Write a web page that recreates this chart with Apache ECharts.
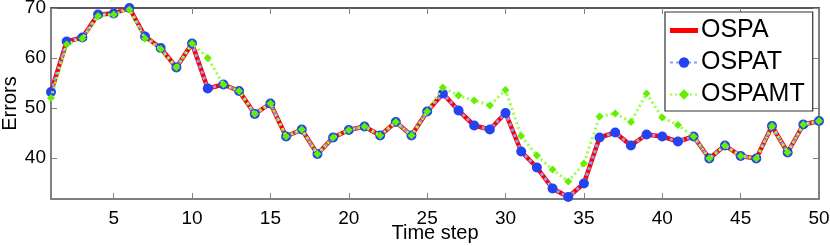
<!DOCTYPE html>
<html>
<head>
<meta charset="utf-8">
<script src="https://cdn.jsdelivr.net/npm/echarts@6/dist/echarts.min.js"></script>
<style>
html,body{margin:0;padding:0;background:#fff;}
#chart{width:830px;height:246px;}
</style>
</head>
<body>
<div id="chart"></div>
<script>
var timeSteps = [1,2,3,4,5,6,7,8,9,10,11,12,13,14,15,16,17,18,19,20,21,22,23,24,25,26,27,28,29,30,31,32,33,34,35,36,37,38,39,40,41,42,43,44,45,46,47,48,49,50];
var ospa = [53.2,63.3,64.1,68.7,68.9,70.0,64.3,62.0,58.1,62.9,53.9,54.7,53.4,48.8,50.9,44.3,45.7,40.8,44.1,45.6,46.3,44.5,47.2,44.5,49.3,52.9,49.5,46.5,45.7,49.0,41.3,38.1,33.9,32.2,34.9,44.1,45.1,42.5,44.7,44.3,43.3,44.3,39.9,42.5,40.4,39.9,46.4,41.1,46.7,47.4];
var ospat = [53.2,63.3,64.1,68.7,68.9,70.0,64.3,62.0,58.1,62.9,53.9,54.7,53.4,48.8,50.9,44.3,45.7,40.8,44.1,45.6,46.3,44.5,47.2,44.5,49.3,52.9,49.5,46.5,45.7,49.0,41.3,38.1,33.9,32.2,34.9,44.1,45.1,42.5,44.7,44.3,43.3,44.3,39.9,42.5,40.4,39.9,46.4,41.1,46.7,47.4];
var ospamt = [52.0,62.7,63.9,68.4,68.7,69.7,63.9,61.8,58.1,62.9,60.0,54.7,53.4,48.8,50.9,44.3,45.7,40.8,44.1,45.6,46.3,44.5,47.2,44.5,49.3,54.1,52.5,51.5,50.5,53.6,44.4,40.5,37.7,35.3,38.9,48.3,48.9,47.2,52.9,48.1,46.6,44.3,39.9,42.5,40.4,39.9,46.4,41.1,46.7,47.4];
var xTicks = [5,10,15,20,25,30,35,40,45,50];
var yTicks = [40,50,60,70];
var seriesNames = ['OSPA','OSPAT','OSPAMT'];

function pairs(vals){ return timeSteps.map(function(t,i){ return [t, vals[i]]; }); }

var chart = echarts.init(document.getElementById('chart'), null, {renderer:'canvas'});
var font = 'Liberation Sans, Arial, sans-serif';
var axisCol = '#808080';
var baseX = {
  type:'value', min:1, max:50,
  axisLine:{show:true, lineStyle:{color:axisCol, width:2}},
  axisTick:{show:true, inside:true, length:6, customValues:xTicks, lineStyle:{color:axisCol, width:1}},
  splitLine:{show:false}
};
var baseY = {
  type:'value', min:31.8, max:70,
  axisLine:{show:true, lineStyle:{color:axisCol, width:2}},
  axisTick:{show:true, inside:true, length:6, customValues:yTicks, lineStyle:{color:axisCol, width:1}},
  splitLine:{show:false}
};
chart.setOption({
  animation:false,
  backgroundColor:'#fff',
  grid:{left:51, right:11, top:8, bottom:47, containLabel:false, outerBoundsMode:'none'},
  xAxis:[
    Object.assign({}, baseX, {position:'bottom', name:'Time step', nameLocation:'middle', nameGap:24, nameMoveOverlap:false,
      nameTextStyle:{fontFamily:font, fontSize:20, color:'#000'},
      axisLabel:{show:true, customValues:xTicks, margin:10, fontFamily:font, fontSize:19, color:'#000'}}),
    Object.assign({}, baseX, {position:'top', axisLine:{show:true, lineStyle:{color:'#222', width:1.5}}, axisLabel:{show:false}})
  ],
  yAxis:[
    Object.assign({}, baseY, {position:'left', name:'Errors', nameLocation:'middle', nameGap:31, nameMoveOverlap:false,
      nameTextStyle:{fontFamily:font, fontSize:20, color:'#000'},
      axisLabel:{show:true, customValues:yTicks, margin:5, fontFamily:font, fontSize:19, color:'#000'}}),
    Object.assign({}, baseY, {position:'right', axisLabel:{show:false}})
  ],
  legend:{
    show:true, left:665, top:12, orient:'vertical',
    data:[
      {name:seriesNames[0], icon:'path://M0,0H28V5H0Z'},
      {name:seriesNames[1]},
      {name:seriesNames[2]}
    ],
    backgroundColor:'#fff', borderColor:'#333', borderWidth:1.2,
    padding:[6,8,4,4], itemGap:7, itemWidth:28, itemHeight:13,
    textStyle:{fontFamily:font, fontSize:25, color:'#000', padding:[0,0,0,-2]}
  },
  series:[
    {name:seriesNames[0], type:'line', data:pairs(ospa), symbol:'none', showSymbol:false,
     lineStyle:{color:'#ff0000', width:4.5}, itemStyle:{color:'#ff0000'}, z:2},
    {name:seriesNames[1], type:'line', data:pairs(ospat), symbol:'circle', symbolSize:10,
     lineStyle:{color:'#8c9cff', width:3, type:[3,3]}, itemStyle:{color:'#2344f0'}, z:3},
    {name:seriesNames[2], type:'line', data:pairs(ospamt), symbol:'diamond', symbolSize:8,
     lineStyle:{color:'#99ff44', width:3, type:[2,3]}, itemStyle:{color:'#66ee00'}, z:4}
  ]
});
</script>
</body>
</html>
